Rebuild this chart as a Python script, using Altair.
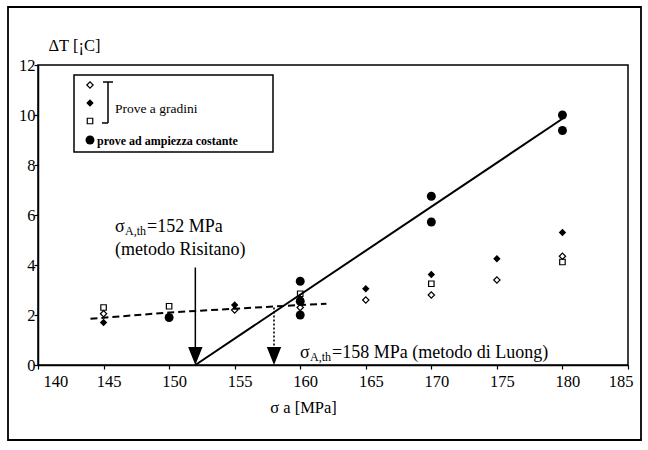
import altair as alt
import pandas as pd

# Temperature rise (deg C) versus stress amplitude (MPa), per test series
open_diamond_s = [145, 155, 160, 165, 170, 175, 180]
open_diamond_t = [2.05, 2.2, 2.3, 2.6, 2.8, 3.4, 4.35]

filled_diamond_s = [145, 155, 160, 165, 170, 175, 180]
filled_diamond_t = [1.7, 2.4, 2.65, 3.05, 3.62, 4.25, 5.3]

square_s = [145, 150, 160, 170, 180]
square_t = [2.3, 2.35, 2.85, 3.25, 4.12]

circle_s = [150, 160, 160, 160, 170, 170, 180, 180]
circle_t = [1.9, 3.35, 2.55, 2.0, 6.75, 5.72, 10.0, 9.38]

# fitted lines
fit_s = [152, 180]
fit_t = [0, 9.85]
low_s = [144, 150, 155, 160, 162]
low_t = [1.85, 2.1, 2.25, 2.4, 2.45]

# fatigue limit estimates (MPa)
risitano_limit = 152
luong_limit = 158

x_ticks = [140, 145, 150, 155, 160, 165, 170, 175, 180, 185]
y_ticks = [0, 2, 4, 6, 8, 10, 12]

SERIF = "Liberation Serif"
W, H = 590, 300

x_scale = alt.Scale(domain=[140, 185], nice=False, zero=False)
y_scale = alt.Scale(domain=[0, 12], nice=False)

x_axis = alt.Axis(
    values=x_ticks, title="σ a [MPa]", grid=False, zindex=1,
    labelFont=SERIF, labelFontSize=16.5, labelColor="black", labelOffset=5,
    labelPadding=4, tickSize=4, tickColor="black", tickWidth=1.2,
    domainColor="black", domainWidth=1.5,
    titleFont=SERIF, titleFontSize=16.5, titleFontWeight="normal", titleColor="black",
    titleX=265, titleY=47, titleAlign="center", titleBaseline="alphabetic",
)
y_axis = alt.Axis(
    values=y_ticks, title="ΔT  [¡C]", grid=False, zindex=1,
    labelFont=SERIF, labelFontSize=16.5, labelColor="black", labelPadding=-1,
    tickSize=4, tickColor="black", tickWidth=1.2,
    domainColor="black", domainWidth=1.5,
    titleFont=SERIF, titleFontSize=16.5, titleFontWeight="normal", titleColor="black",
    titleAngle=0, titleX=10, titleY=-15, titleAlign="left", titleBaseline="alphabetic",
)

one = pd.DataFrame({"k": [0]})


def xy():
    return dict(
        x=alt.X("s:Q", scale=x_scale, axis=x_axis),
        y=alt.Y("t:Q", scale=y_scale, axis=y_axis),
    )


def series(s, t, shape, filled, size):
    df = pd.DataFrame({"s": s, "t": t})
    return alt.Chart(df).mark_point(
        shape=shape, filled=filled, size=size, color="black",
        opacity=1, strokeWidth=1.2,
    ).encode(**xy())


def line(s, t, dash=None, width=1.8):
    df = pd.DataFrame({"s": s, "t": t})
    kw = dict(color="black", strokeWidth=width)
    if dash:
        kw["strokeDash"] = dash
    return alt.Chart(df).mark_line(**kw).encode(**xy())


def ptext(txt, x, y, size=18, align="left", weight="normal"):
    return alt.Chart(one).mark_text(
        text=txt, font=SERIF, fontSize=size, color="black",
        align=align, baseline="alphabetic", fontWeight=weight,
    ).encode(x=alt.value(x), y=alt.value(y))


def prule(x, y, x2, y2, width=1.5):
    return alt.Chart(one).mark_rule(color="black", strokeWidth=width).encode(
        x=alt.value(x), x2=alt.value(x2), y=alt.value(y), y2=alt.value(y2))


def pmark(x, y, shape, filled, size):
    return alt.Chart(one).mark_point(
        shape=shape, filled=filled, size=size, color="black",
        opacity=1, strokeWidth=1.2,
    ).encode(x=alt.value(x), y=alt.value(y))


# outer page frame
frame = alt.Chart(one).mark_rect(
    fill="transparent", stroke="black", strokeWidth=1.8
).encode(x=alt.value(-30), x2=alt.value(603), y=alt.value(-58), y2=alt.value(375))

# threshold arrows
risitano_df = pd.DataFrame({"s": [risitano_limit, risitano_limit], "t": [3.9, 0.5]})
risitano_shaft = alt.Chart(risitano_df).mark_line(color="black", strokeWidth=1.5).encode(**xy())

luong_df = pd.DataFrame({"s": [luong_limit, luong_limit], "t": [2.3, 0.7]})
luong_shaft = alt.Chart(luong_df).mark_line(
    color="black", strokeWidth=1.6, strokeDash=[2, 2]
).encode(**xy())

heads_df = pd.DataFrame({"s": [risitano_limit, luong_limit], "t": [0, 0]})
heads = alt.Chart(heads_df).mark_point(
    shape="M-0.8,-2L0.8,-2L0,0Z", filled=True, size=324, color="black", opacity=1
).encode(**xy())

# legend box
legend_box = alt.Chart(one).mark_rect(
    fill="white", stroke="black", strokeWidth=1.5
).encode(x=alt.value(36), x2=alt.value(235), y=alt.value(10), y2=alt.value(87))

legend = [
    legend_box,
    pmark(52, 20, "diamond", False, 40),
    pmark(52, 38, "diamond", True, 55),
    pmark(52, 56, "square", False, 30),
    pmark(52, 75, "circle", True, 80),
    prule(70, 17, 70, 58),
    prule(65, 17, 75, 17),
    prule(64, 58, 70, 58),
    ptext("Prove a gradini", 77, 48, size=13.5),
    ptext("prove ad ampiezza costante", 59, 80, size=12, weight="bold"),
]

# annotation labels with subscripts
notes = [
    ptext("σ", 77, 167),
    ptext("A,th", 87, 170, size=12),
    ptext("=" + str(risitano_limit) + " MPa", 109, 167),
    ptext("(metodo Risitano)", 77, 190),
    ptext("σ", 262, 293),
    ptext("A,th", 272, 296, size=12),
    ptext("=" + str(luong_limit) + " MPa (metodo di Luong)", 294, 293),
]

chart = alt.layer(
    frame,
    line(fit_s, fit_t, width=2),
    line(low_s, low_t, dash=[7, 4], width=2),
    risitano_shaft,
    luong_shaft,
    heads,
    series(open_diamond_s, open_diamond_t, "diamond", False, 40),
    series(filled_diamond_s, filled_diamond_t, "diamond", True, 55),
    series(square_s, square_t, "square", False, 30),
    series(circle_s, circle_t, "circle", True, 80),
    *legend,
    *notes,
).properties(
    width=W, height=H,
    autosize=alt.AutoSizeParams(type="none"),
    padding={"left": 38, "top": 65, "right": 20, "bottom": 85},
    background="white",
).configure_view(stroke="black", strokeWidth=1.5)

chart.save("out.html", embed_options={"renderer": "svg", "actions": False})
